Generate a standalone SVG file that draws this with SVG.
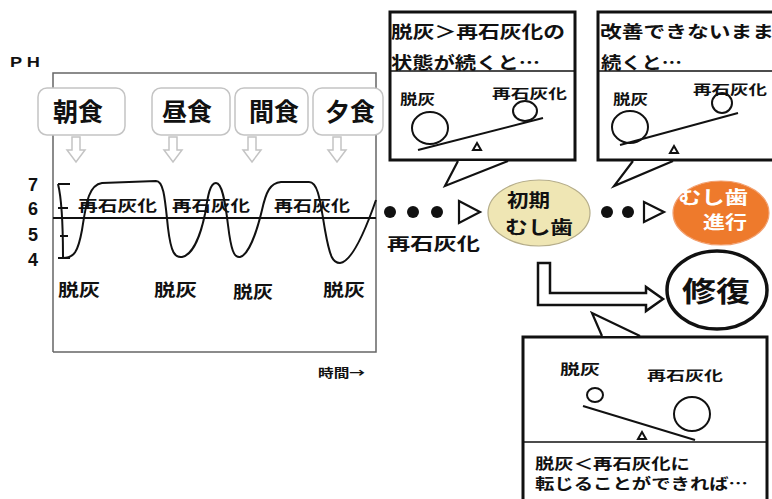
<svg xmlns="http://www.w3.org/2000/svg" width="772" height="499" viewBox="0 0 772 499">
  <style>
    text { font-family: "Noto Sans CJK JP", "Liberation Sans", sans-serif; font-weight: bold; fill: #111; dominant-baseline: central; }
    .num { font-family: "Liberation Sans", sans-serif; font-weight: bold; }
    .frame { fill: none; stroke: #666; stroke-width: 1.5; }
    .meal { fill: #fff; stroke: #c4c4c4; stroke-width: 1.5; }
    .mealArrow { fill: #fff; stroke: #c4c4c4; stroke-width: 1.5; }
    .ink { fill: none; stroke: #111; stroke-width: 2; }
    .box { fill: #fff; stroke: #111; stroke-width: 3; }
    .tail { fill: #fff; stroke: #111; stroke-width: 2.2; stroke-linejoin: miter; }
    .dot { fill: #111; }
  </style>

  <!-- pH chart -->
  <g id="chart">
    <text class="num" x="10" y="62" font-size="14" textLength="30" lengthAdjust="spacingAndGlyphs">P H</text>
    <path class="frame" d="M53,352 V73 H376 V352 H53"/>
    <!-- axis values -->
    <text class="num" x="28" y="185" font-size="18">7</text>
    <text class="num" x="28" y="209" font-size="18">6</text>
    <text class="num" x="28" y="235" font-size="18">5</text>
    <text class="num" x="28" y="260" font-size="18">4</text>
    <path class="ink" d="M58,184 C62,200 63,230 63,258 M58,184 H70 M58,208 H68 M60,236 H68 M58,258 H70"/>
    <!-- critical pH line -->
    <line x1="53" y1="218" x2="376" y2="218" stroke="#111" stroke-width="2"/>
    <!-- pH curve over the day -->
    <path class="ink" d="M63,258 C74,258 78,252 82,230 C86,205 88,185 102,183 L156,181 C164,181 165,200 168,228 C171,253 175,258 182,257 C192,255 200,238 205,214 C208,195 210,183 216,183 C222,183 225,200 228,225 C231,250 234,258 240,257 C248,255 256,235 262,210 C266,192 270,183 281,182 L309,182 C318,182 320,200 325,230 C330,258 333,263 340,263 C350,262 362,240 376,200"/>
    <text x="78" y="204" font-size="15" textLength="79" lengthAdjust="spacingAndGlyphs">再石灰化</text>
    <text x="172" y="204" font-size="15" textLength="78" lengthAdjust="spacingAndGlyphs">再石灰化</text>
    <text x="274" y="204" font-size="15" textLength="76" lengthAdjust="spacingAndGlyphs">再石灰化</text>
    <text x="58" y="288" font-size="17" textLength="42" lengthAdjust="spacingAndGlyphs">脱灰</text>
    <text x="154" y="288" font-size="17" textLength="43" lengthAdjust="spacingAndGlyphs">脱灰</text>
    <text x="233" y="290" font-size="17" textLength="40" lengthAdjust="spacingAndGlyphs">脱灰</text>
    <text x="323" y="288" font-size="17" textLength="42" lengthAdjust="spacingAndGlyphs">脱灰</text>
    <text x="318" y="372" font-size="12" textLength="47" lengthAdjust="spacingAndGlyphs">時間→</text>
  </g>

  <!-- meals -->
  <g id="meal-breakfast">
    <rect class="meal" x="38" y="88" width="87" height="47" rx="9"/>
    <text x="78" y="110" font-size="25" text-anchor="middle">朝食</text>
  </g>
  <g id="meal-lunch">
    <rect class="meal" x="152" y="88" width="78" height="47" rx="9"/>
    <text x="187" y="110" font-size="25" text-anchor="middle">昼食</text>
  </g>
  <g id="meal-snack">
    <rect class="meal" x="235" y="88" width="73" height="47" rx="9"/>
    <text x="274" y="110" font-size="25" text-anchor="middle">間食</text>
  </g>
  <g id="meal-dinner">
    <rect class="meal" x="313" y="88" width="70" height="47" rx="9"/>
    <text x="350" y="110" font-size="25" text-anchor="middle">夕食</text>
  </g>

  <!-- callout: demineralisation dominating -->
  <g id="callout-imbalance">
    <rect class="box" x="390" y="12" width="185" height="148"/>
    <line x1="390" y1="71" x2="575" y2="71" stroke="#111" stroke-width="1.5"/>
    <polyline class="tail" points="458,161 445,186 508,161"/>
    <text x="391" y="30" font-size="17" textLength="174" lengthAdjust="spacingAndGlyphs">脱灰＞再石灰化の</text>
    <text x="391" y="61" font-size="17" textLength="149" lengthAdjust="spacingAndGlyphs">状態が続くと…</text>
    <text x="400" y="98" font-size="14" textLength="35" lengthAdjust="spacingAndGlyphs">脱灰</text>
    <text x="492" y="92" font-size="13" textLength="75" lengthAdjust="spacingAndGlyphs">再石灰化</text>
    <ellipse class="ink" cx="430" cy="128" rx="18" ry="16"/>
    <ellipse class="ink" cx="525" cy="111" rx="12" ry="10"/>
    <line class="ink" x1="418" y1="150" x2="543" y2="118"/>
    <polygon points="477,143 481,150 473,150" fill="none" stroke="#111" stroke-width="2"/>
  </g>

  <!-- callout: left untreated -->
  <g id="callout-untreated">
    <rect class="box" x="598" y="12" width="180" height="148"/>
    <line x1="598" y1="71" x2="772" y2="71" stroke="#111" stroke-width="1.5"/>
    <polyline class="tail" points="633,161 614,186 673,161"/>
    <text x="600" y="30" font-size="17" textLength="174" lengthAdjust="spacingAndGlyphs">改善できないまま</text>
    <text x="601" y="61" font-size="17" textLength="81" lengthAdjust="spacingAndGlyphs">続くと…</text>
    <text x="613" y="98" font-size="14" textLength="35" lengthAdjust="spacingAndGlyphs">脱灰</text>
    <text x="693" y="88" font-size="13" textLength="74" lengthAdjust="spacingAndGlyphs">再石灰化</text>
    <ellipse class="ink" cx="630" cy="127" rx="18" ry="16"/>
    <ellipse class="ink" cx="722" cy="103" rx="10" ry="10"/>
    <line class="ink" x1="620" y1="145" x2="738" y2="113"/>
    <polygon points="674,146 678,153 670,153" fill="none" stroke="#111" stroke-width="2"/>
  </g>

  <!-- callout: remineralisation wins -->
  <g id="callout-recovery">
    <rect class="box" x="523" y="337" width="244" height="170"/>
    <line x1="523" y1="442" x2="767" y2="442" stroke="#111" stroke-width="1.5"/>
    <polyline class="tail" points="602,336 592,313 640,336"/>
    <text x="560" y="368" font-size="14" textLength="40" lengthAdjust="spacingAndGlyphs">脱灰</text>
    <text x="647" y="374" font-size="13" textLength="76" lengthAdjust="spacingAndGlyphs">再石灰化</text>
    <ellipse class="ink" cx="595" cy="395" rx="8" ry="7"/>
    <ellipse class="ink" cx="692" cy="414" rx="18" ry="17"/>
    <line class="ink" x1="583" y1="406" x2="695" y2="440"/>
    <polygon points="642,432 646,439 638,439" fill="none" stroke="#111" stroke-width="2"/>
    <text x="535" y="462" font-size="15" textLength="155" lengthAdjust="spacingAndGlyphs">脱灰＜再石灰化に</text>
    <text x="535" y="482" font-size="15" textLength="213" lengthAdjust="spacingAndGlyphs">転じることができれば…</text>
  </g>

  <!-- early caries -->
  <g id="early-caries">
    <ellipse cx="539" cy="213" rx="51" ry="33" fill="#efe6b4" stroke="#b5ad8a" stroke-width="1.2"/>
    <text x="507" y="199" font-size="18" textLength="43" lengthAdjust="spacingAndGlyphs">初期</text>
    <text x="505" y="226" font-size="18" textLength="68" lengthAdjust="spacingAndGlyphs">むし歯</text>
  </g>

  <!-- advanced caries -->
  <g id="advanced-caries">
    <ellipse cx="721" cy="213" rx="48" ry="32" fill="#ee7a2c" stroke="#f2a070" stroke-width="1.2"/>
    <text x="678" y="196" font-size="18" textLength="70" lengthAdjust="spacingAndGlyphs" style="fill:#fff">むし歯</text>
    <text x="703" y="221" font-size="18" textLength="44" lengthAdjust="spacingAndGlyphs" style="fill:#fff">進行</text>
  </g>

  <!-- repair -->
  <g id="repair">
    <ellipse cx="717" cy="290" rx="50" ry="39" fill="#fff" stroke="#111" stroke-width="3.5"/>
    <text x="682" y="290" font-size="28" textLength="68" lengthAdjust="spacingAndGlyphs">修復</text>
  </g>

  <!-- remineralisation label under the dots -->
  <g id="remin-label">
    <text x="387" y="242" font-size="17" textLength="93" lengthAdjust="spacingAndGlyphs">再石灰化</text>
  </g>

  <g id="connectors">
    <!-- meal arrows -->
    <path class="mealArrow" d="M72,137 H80 V150 H85 L76,162 L67,150 H72 Z"/>
    <path class="mealArrow" d="M169,137 H177 V150 H182 L173,162 L164,150 H169 Z"/>
    <path class="mealArrow" d="M248,137 H256 V150 H261 L252,162 L243,150 H248 Z"/>
    <path class="mealArrow" d="M333,137 H341 V150 H346 L337,162 L328,150 H333 Z"/>
    <!-- progression: chart to early caries -->
    <circle class="dot" cx="390" cy="212" r="6"/>
    <circle class="dot" cx="413" cy="212" r="6"/>
    <circle class="dot" cx="437" cy="212" r="6"/>
    <polygon points="459,201 480,212 459,223" fill="none" stroke="#111" stroke-width="2.2"/>
    <!-- early caries to advanced caries -->
    <circle class="dot" cx="607" cy="212" r="6"/>
    <circle class="dot" cx="628" cy="212" r="6"/>
    <polygon points="644,202 664,212 644,222" fill="none" stroke="#111" stroke-width="2.2"/>
    <!-- early caries to repair -->
    <path d="M538,263 H550 V293 H646 V287 L663,299 L646,311 V305 H538 Z" fill="#fff" stroke="#111" stroke-width="2.5" stroke-linejoin="miter"/>
  </g>
</svg>
